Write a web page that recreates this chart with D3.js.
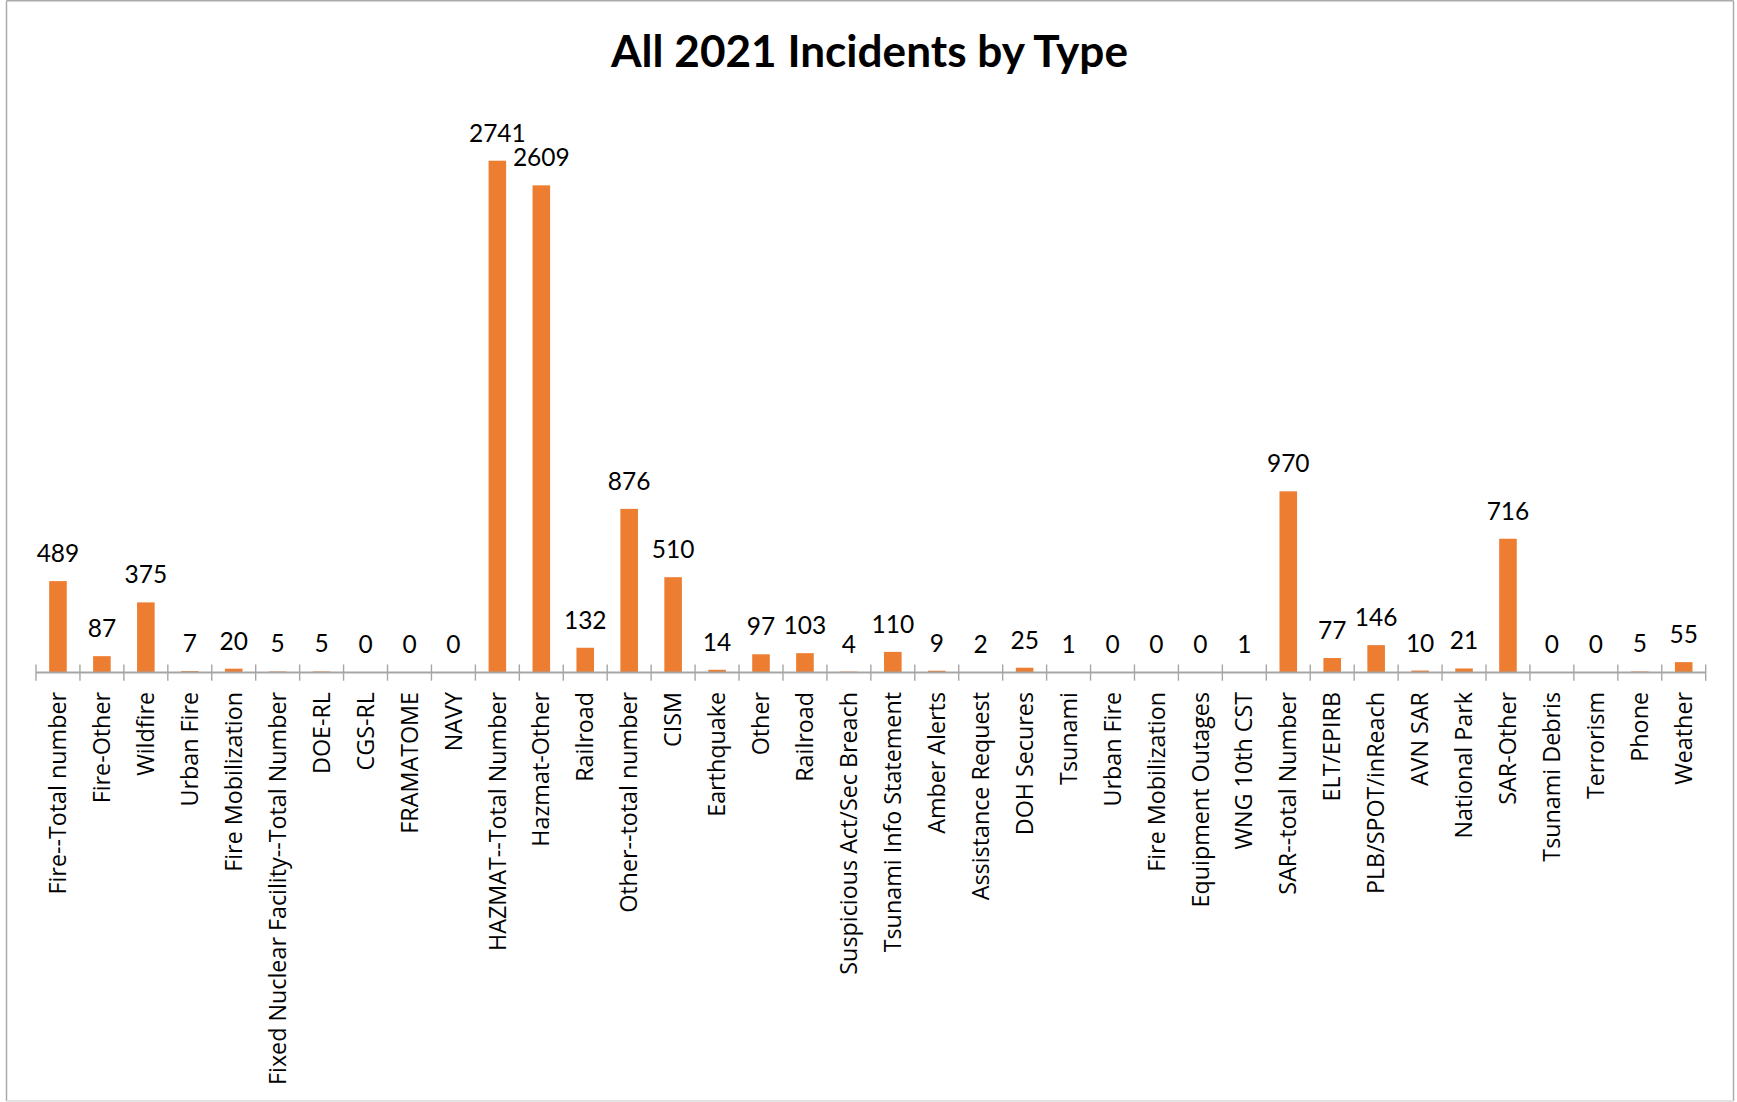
<!DOCTYPE html>
<html>
<head>
<meta charset="utf-8">
<script src="https://cdn.jsdelivr.net/npm/d3@7"></script>
<style>
  html, body { margin: 0; padding: 0; background: #fff; }
  svg { display: block; }
</style>
</head>
<body>
<svg id="chart" width="1737" height="1102"></svg>
<script>
const title = "All 2021 Incidents by Type";
const categories = [
  "Fire--Total number", "Fire-Other", "Wildfire", "Urban Fire", "Fire Mobilization",
  "Fixed Nuclear Facility--Total Number", "DOE-RL", "CGS-RL", "FRAMATOME", "NAVY",
  "HAZMAT--Total Number", "Hazmat-Other", "Railroad", "Other--total number", "CISM",
  "Earthquake", "Other", "Railroad", "Suspicious Act/Sec Breach", "Tsunami Info Statement",
  "Amber Alerts", "Assistance Request", "DOH Secures", "Tsunami", "Urban Fire",
  "Fire Mobilization", "Equipment Outages", "WNG 10th CST", "SAR--total Number", "ELT/EPIRB",
  "PLB/SPOT/inReach", "AVN SAR", "National Park", "SAR-Other", "Tsunami Debris",
  "Terrorism", "Phone", "Weather"
];
const values = [
  489, 87, 375, 7, 20,
  5, 5, 0, 0, 0,
  2741, 2609, 132, 876, 510,
  14, 97, 103, 4, 110,
  9, 2, 25, 1, 0,
  0, 0, 1, 970, 77,
  146, 10, 21, 716, 0,
  0, 5, 55
];
const yDomain = [0, 3000];

const svg = d3.select("#chart");

// chart frame
const frame = svg.append("g");
frame.append("line").attr("x1", 6.5).attr("x2", 6.5).attr("y1", 0.7).attr("y2", 1101).attr("stroke", "#ababab").attr("stroke-width", 1.5);
frame.append("line").attr("x1", 6.5).attr("x2", 1733.5).attr("y1", 0.7).attr("y2", 0.7).attr("stroke", "#ababab").attr("stroke-width", 1.5);
frame.append("line").attr("x1", 1733.5).attr("x2", 1733.5).attr("y1", 0.7).attr("y2", 1101).attr("stroke", "#ababab").attr("stroke-width", 1.5);
frame.append("line").attr("x1", 6.5).attr("x2", 1733.5).attr("y1", 1101).attr("y2", 1101).attr("stroke", "#d9d9d9").attr("stroke-width", 1.5);

const x0 = 36, x1 = 1705.7;
const yBase = 672.4, yTop = yBase - 3000 * 0.18668;

const x = d3.scaleBand()
  .domain(d3.range(categories.length))
  .range([x0, x1])
  .paddingInner(0.6)
  .paddingOuter(0.3);
const y = d3.scaleLinear().domain(yDomain).range([yBase, yTop]);

// title
svg.append("text")
  .attr("x", 869.5).attr("y", 66.7)
  .attr("text-anchor", "middle")
  .attr("font-family", "Lato, 'Open Sans', sans-serif")
  .attr("font-weight", 700)
  .attr("font-size", 44)
  .attr("textLength", 517)
  .attr("lengthAdjust", "spacingAndGlyphs")
  .attr("fill", "#000")
  .text(title);

// bars
svg.append("g").selectAll("rect")
  .data(values)
  .join("rect")
  .attr("x", (d, i) => x(i))
  .attr("width", x.bandwidth())
  .attr("y", d => y(d))
  .attr("height", d => yBase - y(d))
  .attr("fill", "#ED7D31");

// axis
const step = x.step();
const boundaries = d3.range(categories.length + 1).map(i => x0 + i * step);
const axis = svg.append("g");
axis.append("line")
  .attr("x1", x0).attr("x2", x1)
  .attr("y1", yBase).attr("y2", yBase)
  .attr("stroke", "#a6a6a6").attr("stroke-width", 2);
axis.selectAll("line.tick")
  .data(boundaries)
  .join("line")
  .attr("class", "tick")
  .attr("x1", d => d).attr("x2", d => d)
  .attr("y1", yBase - 8).attr("y2", yBase + 8.3)
  .attr("stroke", "#a6a6a6").attr("stroke-width", 1.4);

// value labels
svg.append("g").selectAll("text")
  .data(values)
  .join("text")
  .attr("x", (d, i) => x(i) + x.bandwidth() / 2)
  .attr("y", d => y(d) - 19)
  .attr("text-anchor", "middle")
  .attr("font-family", "Lato, 'Open Sans', sans-serif")
  .attr("font-size", 24.5)
  .attr("fill", "#000")
  .text(d => d);

// category labels
svg.append("g").selectAll("text")
  .data(categories)
  .join("text")
  .attr("transform", (d, i) => `translate(${x(i) + x.bandwidth() / 2},692) rotate(-90)`)
  .attr("dy", "0.35em")
  .attr("text-anchor", "end")
  .attr("font-family", "'Open Sans', 'Noto Sans', sans-serif")
  .attr("font-size", 23.3)
  .attr("fill", "#000")
  .text(d => d);
</script>
</body>
</html>
